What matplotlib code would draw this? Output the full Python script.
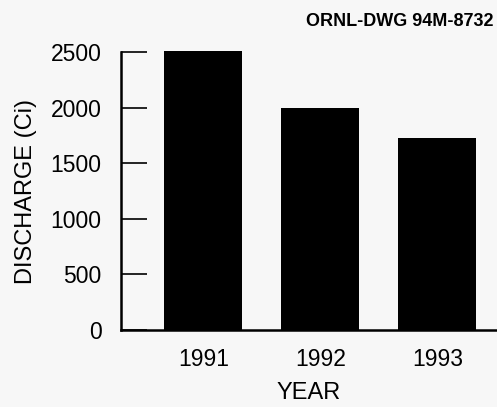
import matplotlib
matplotlib.use("Agg")
import matplotlib.pyplot as plt

years = ["1991", "1992", "1993"]
discharge = [2510, 1995, 1725]
yticks = [0, 500, 1000, 1500, 2000, 2500]

plt.rcParams['font.family'] = ['Liberation Sans', 'DejaVu Sans']

fig = plt.figure(figsize=(4.97, 4.07), dpi=100, facecolor='#f7f7f7')
ax = fig.add_axes([121/497, (407-330)/407, (497-121)/497, (330-52)/407])
ax.set_facecolor('#f7f7f7')

x = list(range(len(years)))
ax.bar(x, discharge, width=0.667, color='black', clip_on=False)
ax.set_xlim(-0.705, 2.51)
ax.set_ylim(0, 2500)

for s in ['top', 'right']:
    ax.spines[s].set_visible(False)
ax.spines['left'].set_linewidth(1.8)
ax.spines['bottom'].set_linewidth(1.8)

ax.set_xticks(x)
ax.set_xticklabels(years)
ax.set_yticks(yticks)
ax.tick_params(axis='x', length=0, pad=13, labelsize=16.5)
ax.tick_params(axis='y', direction='in', length=19, width=1.2, pad=14, labelsize=16.5)

ax.set_ylabel('DISCHARGE (Ci)', fontsize=17, labelpad=10)
ax.set_xlabel('YEAR', fontsize=17, labelpad=8)

fig.text(493/497, 1 - 22/407, 'ORNL-DWG 94M-8732', ha='right', va='center',
         fontsize=13, fontweight='bold')

fig.savefig('out.png', dpi=100, facecolor=fig.get_facecolor())
